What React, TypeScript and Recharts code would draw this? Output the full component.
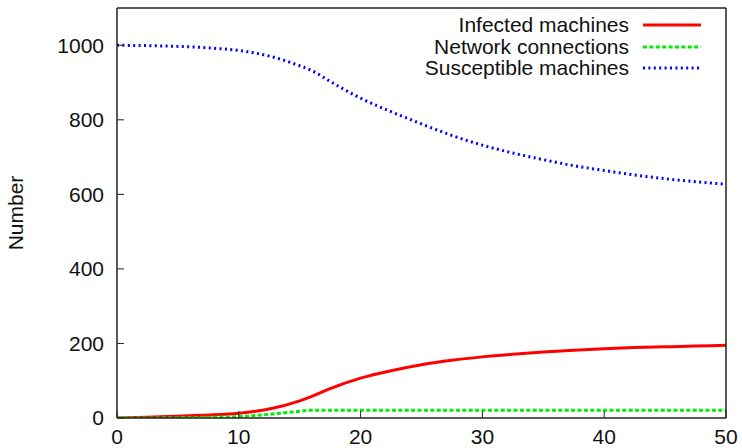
import React from 'react';
import { LineChart, Line, XAxis, YAxis, Legend } from 'recharts';

const time = [0, 2.5, 5, 7.5, 10, 12.5, 15, 16, 17.5, 20, 22.5, 25, 27.5, 30, 32.5, 35, 37.5, 40, 42.5, 45, 47.5, 50];
const infected = [0, 2, 5, 8, 13, 24, 46, 58, 79, 107, 127, 143, 155, 164, 171, 177, 182, 186, 189, 191, 193, 195];
const network = [0, 0, 1, 2, 4, 10, 18, 21, 21, 21, 21, 21, 21, 21, 21, 21, 21, 21, 21, 21, 21, 21];
const susceptible = [1000, 999, 997, 993, 986, 971, 945, 932, 903, 858, 822, 789, 758, 732, 711, 693, 677, 664, 652, 642, 634, 627];

const xTicks = [0, 10, 20, 30, 40, 50];
const yTicks = [0, 200, 400, 600, 800, 1000];

const series = [
  { key: 'infected', name: 'Infected machines', color: '#ff0000', dash: undefined as string | undefined },
  { key: 'network', name: 'Network connections', color: '#00ee00', dash: '4 2.4' },
  { key: 'susceptible', name: 'Susceptible machines', color: '#0000ff', dash: '2 3.4' },
];

const data = time.map((t, i) => ({
  t,
  infected: infected[i],
  network: network[i],
  susceptible: susceptible[i],
}));

const FONT = '"Liberation Sans", Arial, Helvetica, sans-serif';
const FRAME = '#222';
const FS = 21;

const renderLegend = () => (
  <div style={{ fontFamily: FONT, fontSize: FS, color: '#111' }}>
    {series.map((s) => (
      <div key={s.key} style={{ display: 'flex', alignItems: 'center', height: 21.5, lineHeight: '21.5px' }}>
        <div style={{ width: 229, textAlign: 'right', whiteSpace: 'nowrap' }}>{s.name}</div>
        <svg width={72} height={21.5} style={{ display: 'block' }}>
          <line x1={14} x2={72} y1={11} y2={11} stroke={s.color} strokeWidth={3} strokeDasharray={s.dash} />
        </svg>
      </div>
    ))}
  </div>
);

const NumberLabel = (props: any) => {
  const vb = props.viewBox || { x: 0, y: 8, width: 117, height: 410 };
  const cx = vb.x + 23;
  const cy = vb.y + vb.height / 2;
  return (
    <text
      x={cx}
      y={cy}
      transform={`rotate(-90 ${cx} ${cy})`}
      textAnchor="middle"
      fontSize={FS}
      fontFamily={FONT}
      fill="#111"
    >
      Number
    </text>
  );
};

export default function App() {
  return (
    <div style={{ position: 'absolute', left: 0, top: 0 }}>
      <LineChart width={742} height={448} data={data} margin={{ top: 7, right: 15, bottom: 0, left: 0 }}>
        <XAxis
          xAxisId="b"
          dataKey="t"
          type="number"
          domain={[0, 50]}
          ticks={xTicks}
          interval={0}
          height={30}
          tickSize={-7}
          tickMargin={18}
          axisLine={{ stroke: FRAME, strokeWidth: 1.5 }}
          tickLine={{ stroke: FRAME, strokeWidth: 1 }}
          tick={{ fontSize: FS, fill: '#111', fontFamily: FONT }}
        />
        <XAxis
          xAxisId="t"
          dataKey="t"
          orientation="top"
          type="number"
          domain={[0, 50]}
          allowDataOverflow
          ticks={xTicks}
          interval={0}
          height={1}
          tickSize={-7}
          tick={false}
          axisLine={{ stroke: FRAME, strokeWidth: 1.5 }}
          tickLine={{ stroke: FRAME, strokeWidth: 1 }}
        />
        <YAxis
          yAxisId="l"
          type="number"
          domain={[0, 1100]}
          allowDataOverflow
          ticks={yTicks}
          interval={0}
          width={117}
          tickSize={-7}
          tickMargin={20}
          axisLine={{ stroke: FRAME, strokeWidth: 1.5 }}
          tickLine={{ stroke: FRAME, strokeWidth: 1 }}
          tick={{ fontSize: FS, fill: '#111', fontFamily: FONT }}
          label={<NumberLabel />}
        />
        <YAxis
          yAxisId="r"
          orientation="right"
          type="number"
          domain={[0, 1100]}
          allowDataOverflow
          ticks={yTicks}
          interval={0}
          width={1}
          tickSize={-7}
          tick={false}
          axisLine={{ stroke: FRAME, strokeWidth: 1.5 }}
          tickLine={{ stroke: FRAME, strokeWidth: 1 }}
        />
        <Legend
          layout="vertical"
          align="center"
          verticalAlign="middle"
          content={renderLegend}
          wrapperStyle={{ position: 'absolute', left: 400, top: 14, width: 310, height: 66 }}
        />
        <Line
          xAxisId="t"
          yAxisId="r"
          type="monotone"
          dataKey="susceptible"
          stroke="none"
          strokeWidth={0}
          dot={false}
          activeDot={false}
          legendType="none"
          isAnimationActive={false}
        />
        {series.map((s) => (
          <Line
            key={s.key}
            xAxisId="b"
            yAxisId="l"
            type="monotone"
            dataKey={s.key}
            name={s.name}
            stroke={s.color}
            strokeWidth={3}
            strokeDasharray={s.dash}
            dot={false}
            activeDot={false}
            isAnimationActive={false}
          />
        ))}
      </LineChart>
    </div>
  );
}
